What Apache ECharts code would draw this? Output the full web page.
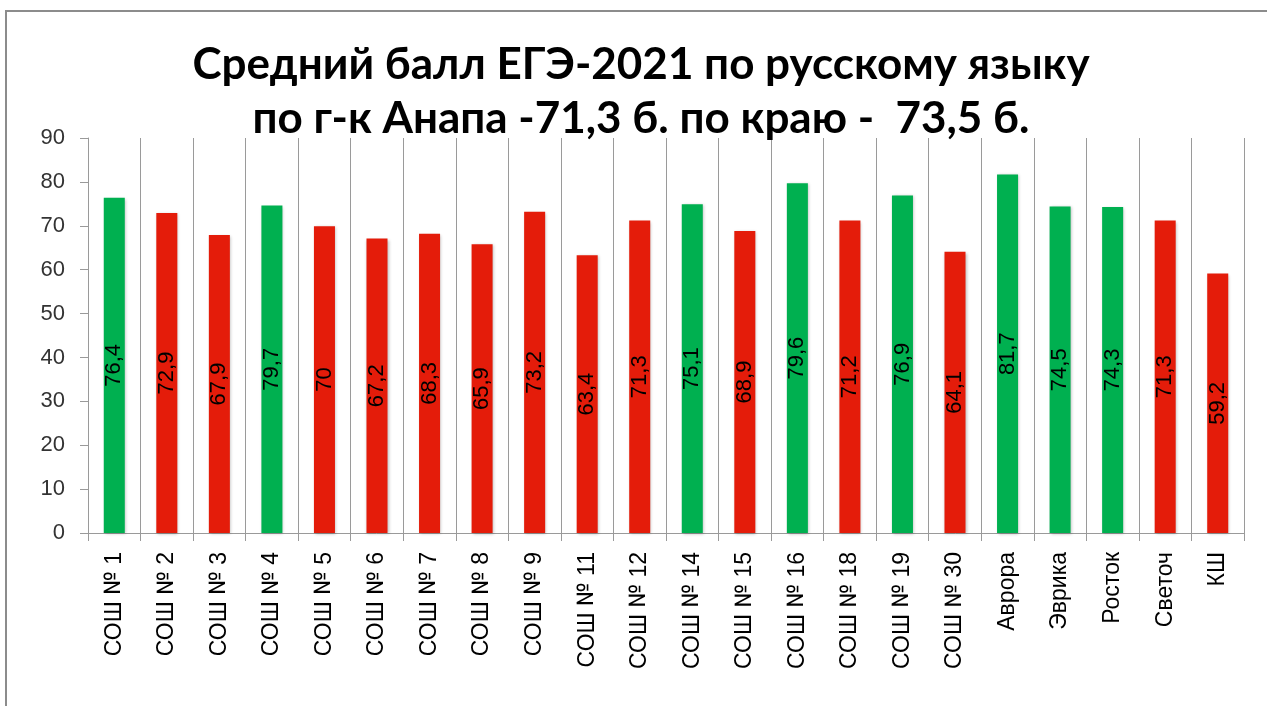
<!DOCTYPE html>
<html>
<head>
<meta charset="utf-8">
<script src="https://cdn.jsdelivr.net/npm/echarts@6/dist/echarts.min.js"></script>
<style>
html,body{margin:0;padding:0;background:#fff;}
#chart{width:1267px;height:706px;}
</style>
</head>
<body>
<div id="chart"></div>
<script>
var titleLines = ['Средний балл ЕГЭ-2021 по русскому языку', 'по г-к Анапа -71,3 б. по краю -  73,5 б.'];
var categories = ['СОШ № 1','СОШ № 2','СОШ № 3','СОШ № 4','СОШ № 5','СОШ № 6','СОШ № 7','СОШ № 8','СОШ № 9','СОШ № 11','СОШ № 12','СОШ № 14','СОШ № 15','СОШ № 16','СОШ № 18','СОШ № 19','СОШ № 30','Аврора','Эврика','Росток','Светоч','КШ'];
// bar heights as drawn
var barValues = [76.4,72.9,67.9,74.6,69.9,67.1,68.2,65.8,73.2,63.3,71.2,74.9,68.8,79.7,71.2,76.9,64.1,81.7,74.4,74.3,71.2,59.1];
// values printed on the bars
var labelValues = [76.4,72.9,67.9,79.7,70,67.2,68.3,65.9,73.2,63.4,71.3,75.1,68.9,79.6,71.2,76.9,64.1,81.7,74.5,74.3,71.3,59.2];
var regionalAvg = 73.5;
var yTicks = {min:0, max:90, interval:10};

var GREEN = '#00B050', RED = '#E41C0A';
var data = barValues.map(function(v, i){
  return {value: v, itemStyle: {color: labelValues[i] > regionalAvg ? GREEN : RED}};
});
function fmt(v){ return String(v).replace('.', ','); }

var chart = echarts.init(document.getElementById('chart'));
chart.setOption({
  animation: false,
  backgroundColor: '#fff',
  title: {
    text: titleLines.join('\n'),
    left: 641, top: 38, textAlign: 'center', padding: 0,
    textStyle: {fontFamily: 'Lato', fontWeight: 'bold', fontSize: 44, lineHeight: 54, color: '#000'}
  },
  graphic: [{
    type: 'rect', shape: {x: 6, y: 11, width: 1300, height: 800},
    style: {fill: 'none', stroke: '#8c8c8c', lineWidth: 2}, silent: true, z: -1
  }],
  grid: {left: 88, right: 23, top: 138, bottom: 173, containLabel: false},
  xAxis: {
    type: 'category', data: categories,
    axisLine: {show: true, lineStyle: {color: '#9a9a9a', width: 1}},
    axisTick: {show: true, length: 8, lineStyle: {color: '#9a9a9a'}},
    splitLine: {show: true, lineStyle: {color: '#9a9a9a', width: 1}},
    axisLabel: {
      rotate: 90, interval: 0, margin: 19, fontFamily: 'Liberation Sans', fontSize: 23, color: '#000',
      formatter: function(v){ return v.replace('№', '{n|№}'); },
      rich: {n: {fontFamily: 'Roboto', fontSize: 23, color: '#000'}}
    }
  },
  yAxis: {
    type: 'value', min: yTicks.min, max: yTicks.max, interval: yTicks.interval,
    axisLine: {show: true, lineStyle: {color: '#9a9a9a', width: 1}},
    axisTick: {show: true, length: 8, lineStyle: {color: '#9a9a9a'}},
    splitLine: {show: false},
    axisLabel: {margin: 23, fontFamily: 'Liberation Sans', fontSize: 22, color: '#333'}
  },
  series: [{
    type: 'bar', data: data, barWidth: '40%',
    itemStyle: {shadowColor: 'rgba(0,0,0,0.25)', shadowBlur: 3, shadowOffsetX: 1, shadowOffsetY: 1},
    label: {
      show: true, position: 'inside', rotate: 90,
      fontFamily: 'Liberation Sans', fontSize: 22, color: '#000',
      formatter: function(p){ return fmt(labelValues[p.dataIndex]); }
    }
  }]
});
</script>
</body>
</html>
